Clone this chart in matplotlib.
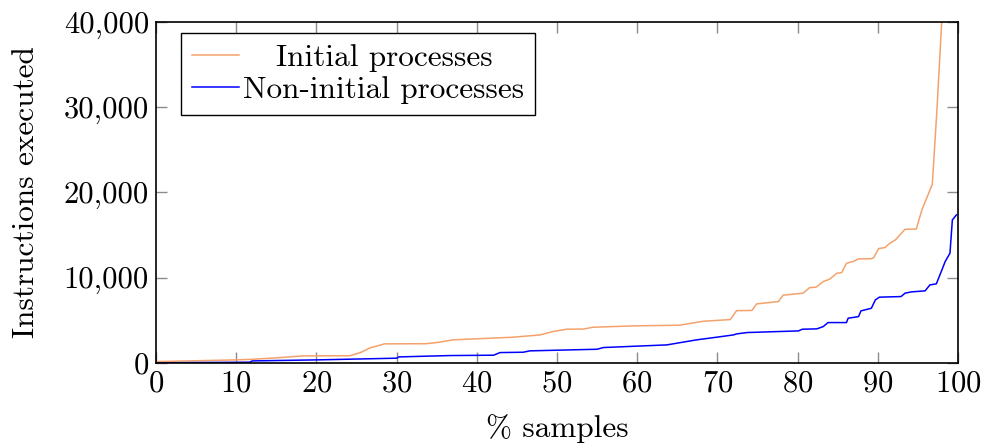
import numpy as np
import matplotlib.pyplot as plt
from matplotlib.ticker import FuncFormatter

plt.rcParams['font.family'] = ['cmr10', 'DejaVu Serif']
plt.rcParams['mathtext.fontset'] = 'cm'
plt.rcParams['axes.formatter.use_mathtext'] = True

# Data (x = % samples, y = instructions executed)
init_x = [0, 5, 10, 12, 15, 18.4, 24.2, 25.5, 26.7, 28.5, 33.7, 35.4, 37, 44.5,
          47.9, 49.5, 51.2, 53.3, 54.5, 59.5, 65.3, 68.2, 71.6, 72.4, 74.3, 74.9,
          77.6, 78.2, 80.7, 81.5, 82.3, 83.2, 84.0, 84.9, 85.5, 86.1, 86.9, 87.6,
          89.2, 89.5, 90.1, 90.9, 91.5, 92.2, 93.4, 94.8, 95.5, 96.8, 97.4, 98.0,
          99.0, 100]
init_y = [150, 250, 350, 420, 590, 820, 840, 1210, 1760, 2230, 2250, 2430, 2700, 3010,
          3280, 3680, 3950, 3970, 4180, 4340, 4420, 4880, 5080, 6130, 6150, 6920,
          7190, 7940, 8180, 8830, 8880, 9540, 9820, 10520, 10590, 11690, 11880, 12200,
          12220, 12350, 13410, 13530, 14040, 14430, 15680, 15700, 17950, 20960, 30070, 40500,
          60000, 90000]

noninit_x = [0, 5, 11.7, 12, 20, 30, 30.3, 36.7, 42.1, 42.9, 45.8, 46.6, 55, 55.8,
             63.7, 67.4, 69.9, 72.0, 72.4, 73.7, 80.1, 80.6, 82.4, 83.2, 83.8, 86.1,
             86.3, 87.6, 87.9, 89.2, 89.7, 90.2, 92.9, 93.4, 94.2, 95.9, 96.5, 97.3,
             97.8, 98.4, 99.0, 99.3, 99.8]
noninit_y = [0, 40, 80, 230, 350, 550, 700, 860, 900, 1210, 1250, 1410, 1600, 1800,
             2110, 2700, 3010, 3280, 3400, 3560, 3750, 3950, 3990, 4260, 4730, 4730,
             5240, 5430, 6100, 6410, 7390, 7710, 7780, 8180, 8330, 8450, 9150, 9270,
             10440, 11880, 12870, 16770, 17360]

fig = plt.figure(figsize=(9.87, 4.48), dpi=100)
ax = fig.add_axes([0.158, 0.19, 0.8126, 0.761])

ax.plot(init_x, init_y, color='#F4A26C', lw=1.1, label='Initial processes')
ax.plot(noninit_x, noninit_y, color='#0000FF', lw=1.1, label='Non-initial processes')

ax.set_xlim(0, 100)
ax.set_ylim(0, 40000)
ax.set_xticks(np.arange(0, 101, 10))
ax.set_yticks(np.arange(0, 40001, 10000))
ax.yaxis.set_major_formatter(FuncFormatter(lambda v, p: f'{v:,.0f}'))
ax.tick_params(direction='in', length=8, width=1, color='#8c8c8c',
               top=True, right=True, labelsize=22, pad=5)
for s in ax.spines.values():
    s.set_linewidth(1.2)

ax.set_xlabel('% samples', fontsize=22.5, labelpad=12)
ax.set_ylabel('Instructions executed', fontsize=22.5, labelpad=17)

leg = ax.legend(loc='upper left', fontsize=22.5, frameon=True, fancybox=False,
                edgecolor='black', framealpha=1, handlelength=1.5,
                handletextpad=0.15, borderpad=0.35, labelspacing=0.15,
                borderaxespad=0, bbox_to_anchor=(0.031, 0.968))
leg.get_frame().set_linewidth(1.0)

# center the legend labels like pgfplots does
fig.canvas.draw()
r = fig.canvas.get_renderer()
texts = leg.get_texts()
w = [t.get_window_extent(r).width for t in texts]
wmax = max(w)
for t, wi in zip(texts, w):
    t.set_x((wmax - wi) / 2)

fig.savefig('out.png', dpi=100)
